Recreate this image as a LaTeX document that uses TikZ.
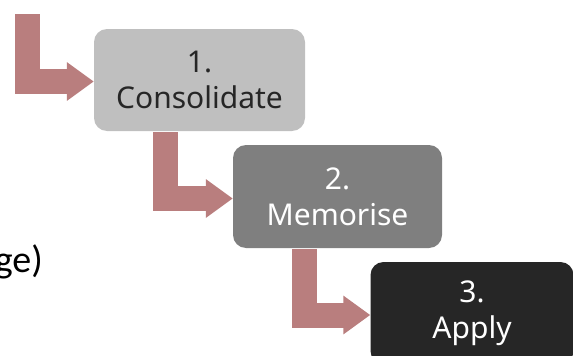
\documentclass[tikz,border=0pt]{standalone}
\usepackage{fontspec}
\setmainfont{Noto Sans}
\newfontfamily\notefont{Carlito}
\usepackage{tikz}
\usetikzlibrary{arrows.meta}
\definecolor{phaseone}{RGB}{191,191,191}
\definecolor{phasetwo}{RGB}{127,127,127}
\definecolor{phasethree}{RGB}{38,38,38}
\definecolor{flecheteinte}{RGB}{185,126,126}
\tikzset{
	phasebox/.style={rounded corners=13pt,align=center,inner sep=0pt,
		font=\fontsize{30}{36}\selectfont},
	blockarrow/.style={draw=flecheteinte,line width=25pt,
		-{Triangle[length=27pt,width=37pt]}}
}
\begin{document}
\begin{tikzpicture}[x=1pt,y=-1pt]
			\useasboundingbox (0,0) rectangle (573,356);
			\node[phasebox,fill=phaseone,text=phasethree,minimum width=211pt,minimum height=102pt] (consolidate) at (199.5,80) {1.\\Consolidate};
			\node[phasebox,fill=phasetwo,text=white,minimum width=209pt,minimum height=103pt] (memorise) at (337.5,196.5) {2.\\Memorise};
			\node[phasebox,fill=phasethree,text=white,minimum width=203pt,minimum height=102pt] (apply) at (472,313) {3.\\Apply};
			\coordinate (entree) at (27.5,14);
			\draw[blockarrow] (entree) |- ([yshift=-1.5pt]consolidate.west);
			\draw[blockarrow] ([shift={(72,1)}]consolidate.south west) |- ([yshift=-2pt]memorise.west);
			\draw[blockarrow] ([shift={(72,1)}]memorise.south west) |- ([yshift=-2pt]apply.west);
			\node[anchor=base east,inner sep=0pt,font=\notefont\fontsize{38}{44}\selectfont] (reste) at (43,272) {ge)};
\end{tikzpicture}
\end{document}
